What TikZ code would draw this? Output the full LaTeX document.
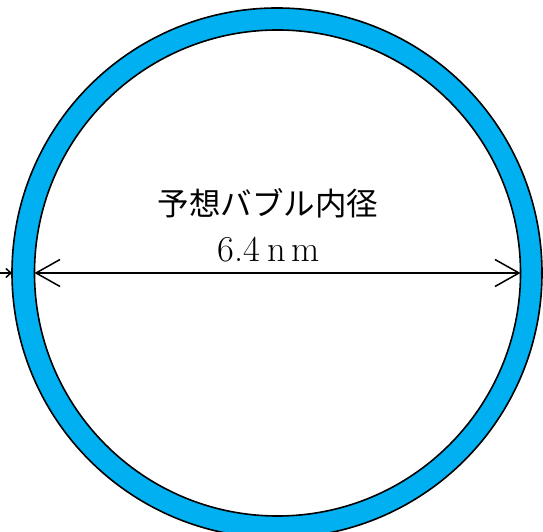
\documentclass[tikz,border=0pt]{standalone}
\usepackage{fontspec}
\newfontfamily\jpfont{Noto Sans CJK JP}
\usetikzlibrary{arrows.meta}
\definecolor{ringblue}{HTML}{00B0F0}
\tikzset{
  ring/.style={circle, draw=black, line width=1.6bp, inner sep=0pt, outer sep=0pt},
  dimline/.style={line width=1.5bp, {Straight Barb[length=24bp,width=27bp]}-{Straight Barb[length=24bp,width=27bp]}},
  smallarrow/.style={line width=1.5bp, -{Straight Barb[length=5bp,width=9bp]}},
  lbl/.style={inner sep=0pt, text=black}
}
\begin{document}
\begin{tikzpicture}[x=1bp,y=1bp]
\useasboundingbox (0,0) rectangle (543,532);
\clip (0,0) rectangle (543,532);
\node[ring, fill=ringblue, minimum size=530bp] (outer) at (277,259) {};
\node[ring, fill=white, minimum size=486bp] (inner) at (277.5,259) {};
\draw[dimline] (inner.west) -- (inner.east);
\coordinate (lstart) at (-2,259);
\draw[smallarrow] (lstart) -- (outer.west);
\node[lbl, font=\jpfont\fontsize{31.5bp}{36bp}\selectfont] (title) at (268,328.5) {予想バブル内径};
\node[lbl, anchor=base, font=\fontsize{36.5bp}{40bp}\selectfont] (dim) at (268.5,270) {6.4\hspace{8bp}n\hspace{5bp}m};
\end{tikzpicture}
\end{document}
